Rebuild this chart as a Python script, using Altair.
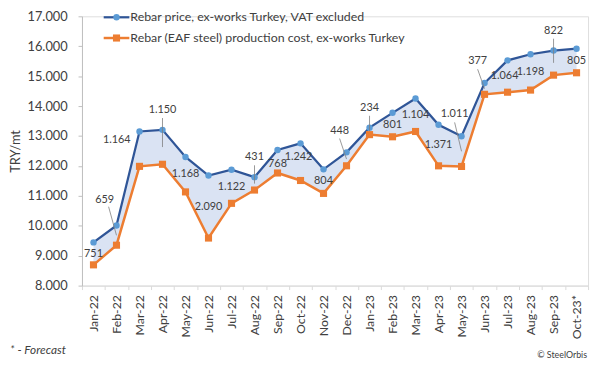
import altair as alt
import pandas as pd

months = ["Jan-22", "Feb-22", "Mar-22", "Apr-22", "May-22", "Jun-22", "Jul-22", "Aug-22",
          "Sep-22", "Oct-22", "Nov-22", "Dec-22", "Jan-23", "Feb-23", "Mar-23", "Apr-23",
          "May-23", "Jun-23", "Jul-23", "Aug-23", "Sep-23", "Oct-23*"]
price = [9445, 10010, 13150, 13205, 12300, 11680, 11872, 11625, 12532, 12755, 11886,
         12453, 13280, 13775, 14255, 13374, 12993, 14770, 15528, 15733, 15856, 15918]
cost = [8694, 9351, 11986, 12055, 11132, 9590, 10750, 11194, 11764, 11513, 11082,
        12005, 13046, 12974, 13151, 12003, 11982, 14393, 14464, 14535, 15034, 15113]
spread = [751, 659, 1164, 1150, 1168, 2090, 1122, 431, 768, 1242, 804,
          448, 234, 801, 1104, 1371, 1011, 377, 1064, 1198, 822, 805]
y_ticks = [8000, 9000, 10000, 11000, 12000, 13000, 14000, 15000, 16000, 17000]

# label placement groups (callouts above the price line, or to the left)
above = ["Apr-22", "Aug-22", "Jan-23", "Sep-23"]
aboveleft = ["Dec-22", "May-23", "Jun-23"]
upleft = ["Feb-22"]
left = ["Mar-22"]
nudge_left = ["Jul-23"]
nudge_up = ["Oct-22"]
nudge_down = ["Sep-22"]

series_names = ["Rebar price, ex-works Turkey, VAT excluded",
                "Rebar (EAF steel) production cost, ex-works Turkey"]

def place(m):
    for name, group in [("above", above), ("aboveleft", aboveleft), ("upleft", upleft),
                        ("left", left), ("insideleft", nudge_left), ("insideup", nudge_up),
                        ("insidedown", nudge_down)]:
        if m in group:
            return name
    return "inside"

df = pd.DataFrame({"month": months, "price": price, "cost": cost, "spread": spread})
df["mid"] = (df["price"] + df["cost"]) / 2
df["place"] = [place(m) for m in months]
df["lbl"] = [f"{v:,}".replace(",", ".") for v in spread]

FONT = "Lato"
BLUE_LINE = "#2F5597"
BLUE_PT = "#5B9BD5"
ORANGE = "#ED7D31"
BAND = "#DAE3F3"
TXT = "#404040"

xenc = alt.X("month:N", sort=months, title=None,
             scale=alt.Scale(paddingInner=0, paddingOuter=0),
             axis=alt.Axis(labelAngle=270, tickBand="extent", labelFontSize=12.5,
                           labelColor=TXT, labelFont=FONT, domainColor="#d9d9d9",
                           tickColor="#d9d9d9", tickSize=4, labelPadding=5,
                           labelAlign="right", labelBaseline="middle", labelOverlap=False))
yscale = alt.Scale(domain=[8000, 17000], nice=False, zero=False)
yaxis = alt.Axis(values=y_ticks, grid=False, labelOverlap=False, tickCount=10,
                 labelExpr="replace(format(datum.value, ','), ',', '.')",
                 labelFontSize=13, labelColor=TXT, labelFont=FONT, labelPadding=11,
                 domainColor="#bfbfbf", tickColor="#bfbfbf", tickSize=4,
                 title="TRY/mt", titleFont=FONT, titleFontSize=13, titleFontWeight="normal",
                 titleColor=TXT, titlePadding=5)

base = alt.Chart(df)
Y = lambda f: alt.Y(f, scale=yscale, axis=yaxis, title="TRY/mt")

area = base.mark_area(color=BAND, opacity=1).encode(
    x=xenc, y=Y("price:Q"), y2="cost:Q")

line_p = base.mark_line(color=BLUE_LINE, strokeWidth=2.25).encode(x=xenc, y=Y("price:Q"))
pts_p = base.mark_point(color=BLUE_PT, filled=True, opacity=1, size=42, shape="circle").encode(
    x=xenc, y=Y("price:Q"))
line_c = base.mark_line(color=ORANGE, strokeWidth=2.5).encode(x=xenc, y=Y("cost:Q"))
pts_c = base.mark_point(color=ORANGE, filled=True, opacity=1, size=52, shape="square").encode(
    x=xenc, y=Y("cost:Q"))

txt_kw = dict(font=FONT, fontSize=11, color=TXT)
lead_kw = dict(color="#7f7f7f", strokeWidth=0.8)

def sel(p):
    return base.transform_filter(alt.datum.place == p)

def mid_lbl(p, dx=0, dy=0):
    return sel(p).mark_text(baseline="middle", align="center", dx=dx, dy=dy, **txt_kw).encode(
        x=xenc, y=Y("mid:Q"), text="lbl:N")

lbl_inside = mid_lbl("inside")
lbl_insideleft = mid_lbl("insideleft", dx=-3)
lbl_insideup = mid_lbl("insideup", dx=-2, dy=-5)
lbl_insidedown = mid_lbl("insidedown", dy=3)
lbl_above = sel("above").mark_text(baseline="middle", align="center", dy=-20, **txt_kw).encode(
    x=xenc, y=Y("price:Q"), text="lbl:N")
lead_above = sel("above").mark_rule(yOffset=-12, **lead_kw).encode(
    x=xenc, y=Y("price:Q"), y2="mid:Q")
lbl_aboveleft = sel("aboveleft").mark_text(baseline="middle", align="center", dx=-7, dy=-22,
                                           **txt_kw).encode(x=xenc, y=Y("price:Q"), text="lbl:N")
lead_aboveleft = sel("aboveleft").mark_rule(xOffset=-7, yOffset=-14, **lead_kw).encode(
    x=xenc, x2="month:N", y=Y("price:Q"), y2="mid:Q")
lbl_upleft = sel("upleft").mark_text(baseline="middle", align="center", dx=-12, dy=-26,
                                     **txt_kw).encode(x=xenc, y=Y("price:Q"), text="lbl:N")
lead_upleft = sel("upleft").mark_rule(xOffset=-8, yOffset=-19, **lead_kw).encode(
    x=xenc, x2="month:N", y=Y("price:Q"), y2="mid:Q")
lbl_left = sel("left").mark_text(baseline="middle", align="right", dx=-9, dy=9, **txt_kw).encode(
    x=xenc, y=Y("price:Q"), text="lbl:N")

# legend (manual)
leg = pd.DataFrame({"name": series_names, "row": [0, 1]})
legbase = alt.Chart(leg)
leg_blue = legbase.transform_filter(alt.datum.row == 0)
leg_or = legbase.transform_filter(alt.datum.row == 1)
leg_layers = [
    leg_blue.mark_rule(color=BLUE_LINE, strokeWidth=2.25).encode(
        x=alt.value(22), x2=alt.value(48), y=alt.value(1)),
    leg_blue.mark_point(color=BLUE_PT, filled=True, opacity=1, size=42, shape="circle").encode(
        x=alt.value(35), y=alt.value(1)),
    leg_or.mark_rule(color=ORANGE, strokeWidth=2.5).encode(
        x=alt.value(22), x2=alt.value(48), y=alt.value(22)),
    leg_or.mark_point(color=ORANGE, filled=True, opacity=1, size=52, shape="square").encode(
        x=alt.value(35), y=alt.value(22)),
    leg_blue.mark_text(align="left", baseline="middle", font=FONT, fontSize=12.5, color=TXT).encode(
        x=alt.value(49), y=alt.value(1), text="name:N"),
    leg_or.mark_text(align="left", baseline="middle", font=FONT, fontSize=12.5, color=TXT).encode(
        x=alt.value(49), y=alt.value(22), text="name:N"),
]

notes = pd.DataFrame({"note": ["* - Forecast", "© SteelOrbis"]})
nb = alt.Chart(notes)
note1 = nb.transform_filter(alt.datum.note == "* - Forecast").mark_text(
    align="left", baseline="middle", font=FONT, fontSize=12, fontStyle="italic", color=TXT).encode(
    x=alt.value(-73), y=alt.value(338), text="note:N")
note2 = nb.transform_filter(alt.datum.note == "© SteelOrbis").mark_text(
    align="right", baseline="middle", font=FONT, fontSize=9, color=TXT).encode(
    x=alt.value(512), y=alt.value(343), text="note:N")

chart = alt.layer(area, line_p, line_c, pts_p, pts_c, lead_above, lead_aboveleft, lead_upleft,
                  lbl_inside, lbl_insideleft, lbl_insideup, lbl_insidedown, lbl_above,
                  lbl_aboveleft, lbl_upleft, lbl_left,
                  *leg_layers, note1, note2).properties(
    width=513, height=273,
    autosize=alt.AutoSizeParams(type="none"),
    padding={"left": 75, "top": 6, "right": 4, "bottom": 75},
).configure_view(stroke=None).configure(background="white")

chart.save("out.html", embed_options={"renderer": "svg", "actions": False})
